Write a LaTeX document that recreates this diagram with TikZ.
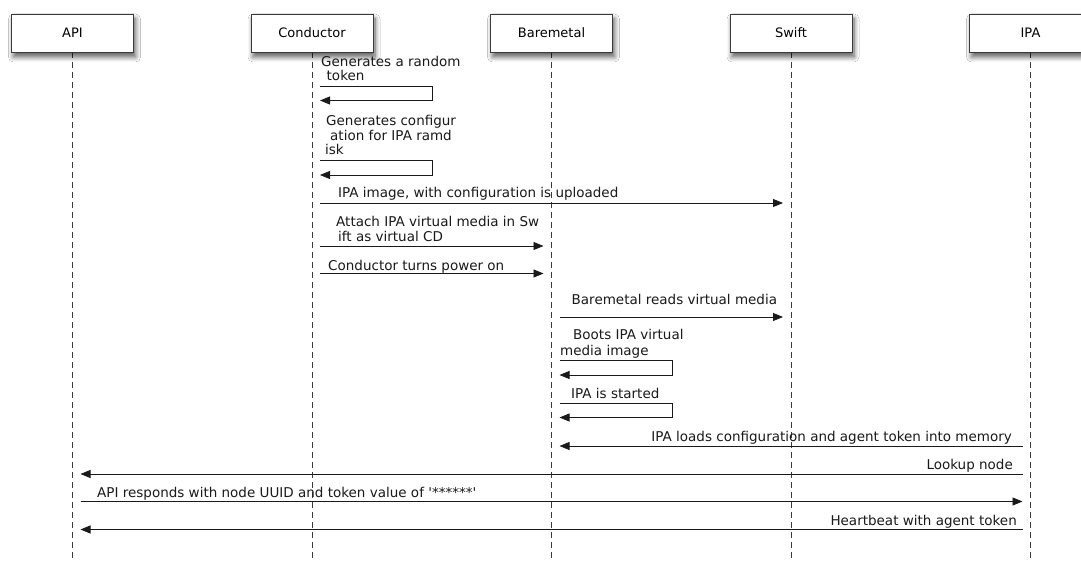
\documentclass[tikz,border=0pt]{standalone}
\usepackage{fontspec}
\setmainfont{DejaVu Sans}
\newfontfamily\plainq{DejaVu Sans}[Ligatures=TeXOff]
\usetikzlibrary{arrows.meta,calc,shadows.blur}
\definecolor{linec}{HTML}{1A1A1A}
\definecolor{boxc}{HTML}{3A3A3A}
\tikzset{
  actor/.style={draw=boxc, line width=0.9pt, fill=white, minimum width=122pt, minimum height=38pt, inner sep=0pt,
    font=\fontsize{13}{15}\selectfont,
    blur shadow={shadow xshift=2pt, shadow yshift=-5pt, shadow blur radius=5pt, shadow blur steps=8, shadow opacity=65}},
  lifeline/.style={draw=boxc, line width=0.8pt, dash pattern=on 6pt off 4pt},
  msg/.style={draw=linec, line width=0.8pt, -{Triangle[length=10pt,width=8pt]}},
  loopline/.style={draw=linec, line width=0.8pt, -{Triangle[length=10pt,width=8pt]}},
  lbl/.style={inner sep=0pt, text=linec, font=\fontsize{13.5}{15}\selectfont},
}
\begin{document}
\begin{tikzpicture}[x=1pt,y=-1pt]
\useasboundingbox (0,0) rectangle (1081,561);
\fill[white] (0,0) rectangle (1081,561);
% lifelines
\coordinate (apiB) at (72.5,561);
\coordinate (condB) at (312,561);
\coordinate (bareB) at (551.5,561);
\coordinate (swiftB) at (791,561);
\coordinate (ipaB) at (1030.5,561);
\draw[lifeline] (72.5,52) -- (apiB);
\draw[lifeline] (312,52) -- (condB);
\draw[lifeline] (551.5,52) -- (bareB);
\draw[lifeline] (791,52) -- (swiftB);
\draw[lifeline] (1030.5,52) -- (ipaB);
% actors
\node[actor] (api) at (72.5,33) {API};
\node[actor] (cond) at (312,33) {Conductor};
\node[actor] (bare) at (551.5,33) {Baremetal};
\node[actor] (swift) at (791,33) {Swift};
\node[actor] (ipa) at (1030.5,33) {IPA};
% 1 self loop
\node[lbl, anchor=base west] (m1a) at (321,67) {Generates a random};
\node[lbl, anchor=base west] (m1b) at (326.5,81) {token};
\draw[loopline] ($(cond |- 0,86)+(8,0)$) -- (432,86) -- (432,100.5) -- ($(cond |- 0,100.5)+(8,0)$);
% 2 self loop
\node[lbl, anchor=base west] (m2a) at (326,126) {Generates configur};
\node[lbl, anchor=base west] (m2b) at (330,140.5) {ation for IPA ramd};
\node[lbl, anchor=base west] (m2c) at (325,155) {isk};
\draw[loopline] ($(cond |- 0,160)+(8,0)$) -- (432,160) -- (432,175) -- ($(cond |- 0,175)+(8,0)$);
% 3
\node[lbl, anchor=base west] (m3) at (338,198) {IPA image, with configuration is uploaded};
\draw[msg] ($(cond |- 0,203)+(8,0)$) -- ($(swift |- 0,203)+(-8,0)$);
% 4
\node[lbl, anchor=base west] (m4a) at (336,227) {Attach IPA virtual media in Sw};
\node[lbl, anchor=base west] (m4b) at (338,241.5) {ift as virtual CD};
\draw[msg] ($(cond |- 0,246)+(8,0)$) -- ($(bare |- 0,246)+(-8,0)$);
% 5
\node[lbl, anchor=base west] (m5) at (328,270) {Conductor turns power on};
\draw[msg] ($(cond |- 0,273.5)+(8,0)$) -- ($(bare |- 0,273.5)+(-8,0)$);
% 6
\node[lbl, anchor=base west] (m6) at (571.5,305) {Baremetal reads virtual media};
\draw[msg] ($(bare |- 0,317)+(8,0)$) -- ($(swift |- 0,317)+(-8,0)$);
% 7 self loop
\node[lbl, anchor=base west] (m7a) at (573,339) {Boots IPA virtual};
\node[lbl, anchor=base west] (m7b) at (560,355) {media image};
\draw[loopline] ($(bare |- 0,360)+(8,0)$) -- (672,360) -- (672,375) -- ($(bare |- 0,375)+(8,0)$);
% 8 self loop
\node[lbl, anchor=base west] (m8) at (571,398) {IPA is started};
\draw[loopline] ($(bare |- 0,403)+(8,0)$) -- (672,403) -- (672,417.5) -- ($(bare |- 0,417.5)+(8,0)$);
% 9
\node[lbl, anchor=base east] (m9) at (1012,441.5) {IPA loads configuration and agent token into memory};
\draw[msg] ($(ipa |- 0,446)+(-8,0)$) -- ($(bare |- 0,446)+(8,0)$);
% 10
\node[lbl, anchor=base east] (m10) at (1013,469.5) {Lookup node};
\draw[msg] ($(ipa |- 0,474)+(-8,0)$) -- ($(api |- 0,474)+(8,0)$);
% 11
\node[lbl, anchor=base west] (m11) at (97,497) {API responds with node UUID and token value of {\plainq '******'}};
\draw[msg] ($(api |- 0,501.5)+(8,0)$) -- ($(ipa |- 0,501.5)+(-8,0)$);
% 12
\node[lbl, anchor=base east] (m12) at (1017,525) {Heartbeat with agent token};
\draw[msg] ($(ipa |- 0,529.5)+(-8,0)$) -- ($(api |- 0,529.5)+(8,0)$);
\end{tikzpicture}
\end{document}
